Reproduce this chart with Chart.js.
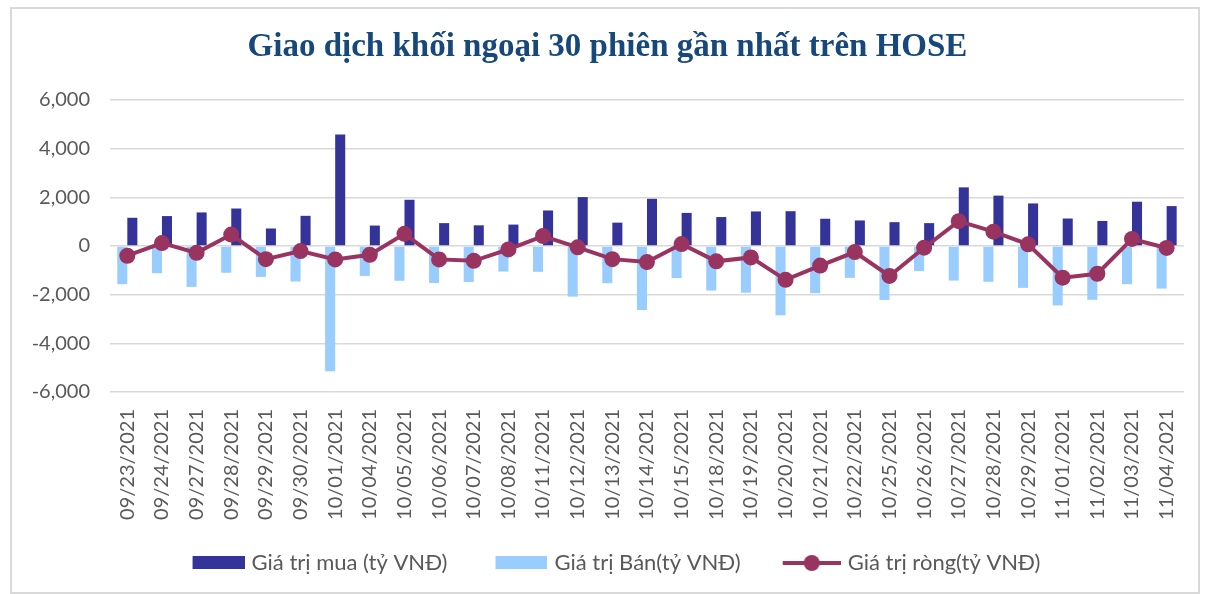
<!DOCTYPE html>
<html>
<head>
<meta charset="utf-8">
<script src="https://cdn.jsdelivr.net/npm/chart.js@4"></script>
<style>
  body { margin: 0; background: #fff; }
  #wrap { position: relative; width: 1208px; height: 594px; }
  #frame { position: absolute; left: 10px; top: 7px; width: 1186px; height: 583px; border: 2px solid #d9d9d9; }
  canvas { position: absolute; left: 0; top: 0; }
</style>
</head>
<body>
<div id="wrap">
  <div id="frame"></div>
  <canvas id="giaoDichChart" width="1208" height="594"></canvas>
</div>
<script>
// du lieu doc tu hinh (ty VND)
const ngay = [
  "09/23/2021", "09/24/2021", "09/27/2021", "09/28/2021", "09/29/2021", "09/30/2021",
  "10/01/2021", "10/04/2021", "10/05/2021", "10/06/2021", "10/07/2021", "10/08/2021",
  "10/11/2021", "10/12/2021", "10/13/2021", "10/14/2021", "10/15/2021", "10/18/2021",
  "10/19/2021", "10/20/2021", "10/21/2021", "10/22/2021", "10/25/2021", "10/26/2021",
  "10/27/2021", "10/28/2021", "10/29/2021", "11/01/2021", "11/02/2021", "11/03/2021",
  "11/04/2021"
];
const giaTriMua = [
  1160, 1230, 1380, 1540, 720, 1240, 4580, 840, 1900, 940, 850, 880,
  1460, 2010, 960, 1940, 1360, 1190, 1420, 1430, 1120, 1050, 980, 940,
  2410, 2070, 1750, 1130, 1030, 1820, 1640
];
const giaTriBan = [
  -1570, -1120, -1680, -1100, -1270, -1460, -5150, -1230, -1430, -1520, -1480, -1050,
  -1060, -2080, -1530, -2630, -1320, -1830, -1920, -2850, -1940, -1310, -2220, -1030,
  -1420, -1470, -1720, -2440, -2210, -1570, -1750
];
const giaTriRong = [
  -400, 120, -280, 470, -540, -210, -550, -360, 500, -550, -610, -140,
  410, -55, -540, -660, 80, -630, -470, -1390, -805, -250, -1230, -70,
  1020, 590, 70, -1300, -1140, 290, -80
];
const yTicks = [-6000, -4000, -2000, 0, 2000, 4000, 6000];

const mauMua = "#343399";
const mauBan = "#99ccff";
const mauRong = "#993360";
const mauChu = "#595959";

// bieu tuong chu giai (anh 74px, noi dung nam ben phai)
function iconRect(color) {
  const c = document.createElement("canvas");
  c.width = 74; c.height = 14;
  const g = c.getContext("2d");
  g.fillStyle = color;
  g.fillRect(22, 0, 52, 13);
  return c;
}
function iconLine(color) {
  const c = document.createElement("canvas");
  c.width = 74; c.height = 20;
  const g = c.getContext("2d");
  g.strokeStyle = color;
  g.lineWidth = 4;
  g.beginPath(); g.moveTo(16, 10); g.lineTo(74, 10); g.stroke();
  g.fillStyle = color;
  g.beginPath(); g.arc(45, 10, 8, 0, Math.PI * 2); g.fill();
  return c;
}
const legendIcons = [iconRect(mauMua), iconRect(mauBan), iconLine(mauRong)];

const ctx = document.getElementById("giaoDichChart");
new Chart(ctx, {
  type: "bar",
  data: {
    labels: ngay,
    datasets: [
      {
        label: "Giá trị mua (tỷ VNĐ)",
        data: giaTriMua,
        backgroundColor: mauMua,
        order: 2,
      },
      {
        label: "Giá trị Bán(tỷ VNĐ)",
        data: giaTriBan,
        backgroundColor: mauBan,
        order: 1,
      },
      {
        type: "line",
        label: "Giá trị ròng(tỷ VNĐ)",
        data: giaTriRong,
        borderColor: mauRong,
        backgroundColor: mauRong,
        borderWidth: 4,
        pointRadius: 8,
        pointHoverRadius: 8,
        pointBackgroundColor: mauRong,
        pointBorderWidth: 0,
        tension: 0,
        order: 0,
      },
    ],
  },
  options: {
    responsive: false,
    animation: false,
    categoryPercentage: 0.58,
    barPercentage: 1,
    layout: {
      padding: { left: 30, right: 23, top: 0, bottom: 10 },
    },
    plugins: {
      title: {
        display: true,
        text: "Giao dịch khối ngoại 30 phiên gần nhất trên HOSE",
        color: "#17487b",
        font: { family: "'Liberation Serif', serif", size: 33, weight: "bold", lineHeight: 1.2 },
        padding: { top: 28, bottom: 32.4 },
      },
      legend: {
        position: "bottom",
        labels: {
          usePointStyle: true,
          pointStyleWidth: 66,
          boxHeight: 13,
          padding: 30,
          color: mauChu,
          font: { family: "Lato", size: 22 },
          generateLabels(chart) {
            const items = Chart.defaults.plugins.legend.labels.generateLabels(chart);
            items.forEach((it) => { it.pointStyle = legendIcons[it.datasetIndex]; });
            return items.sort((a, b) => a.datasetIndex - b.datasetIndex);
          },
        },
      },
      tooltip: { enabled: false },
    },
    scales: {
      x: {
        grid: { display: false, drawTicks: false },
        border: { display: false },
        ticks: {
          color: mauChu,
          font: { family: "Lato", size: 20 },
          minRotation: 90,
          maxRotation: 90,
          autoSkip: false,
          padding: 17,
        },
        afterFit(scale) { scale.height = 130; },
      },
      y: {
        min: -6000,
        max: 6000,
        afterBuildTicks(scale) { scale.ticks = yTicks.map((v) => ({ value: v })); },
        grid: { color: "#d9d9d9", lineWidth: 1.5, drawTicks: false },
        border: { display: false },
        ticks: {
          color: mauChu,
          font: { family: "Lato", size: 20 },
          padding: 20,
          callback: (v) => v.toLocaleString("en-US"),
        },
        afterFit(scale) { scale.width = 80; },
      },
    },
  },
});
</script>
</body>
</html>
